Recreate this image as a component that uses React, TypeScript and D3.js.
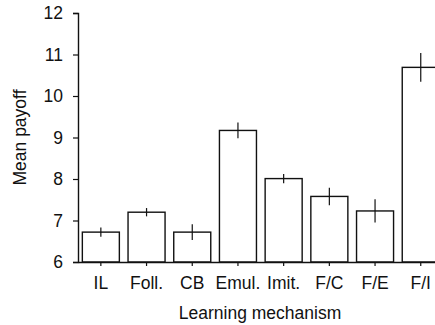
import { useRef, useEffect } from 'react';
import * as d3 from 'd3';

const categories = ['IL', 'Foll.', 'CB', 'Emul.', 'Imit.', 'F/C', 'F/E', 'F/I'];
const means = [6.72, 7.2, 6.72, 9.17, 8.01, 7.58, 7.23, 10.69];
const errors = [0.11, 0.1, 0.19, 0.19, 0.11, 0.21, 0.28, 0.345];
const yTicks = [6, 7, 8, 9, 10, 11, 12];

const W = 435;
const H = 325;
const AXIS_X = 78;
const STEP = 45.7;
const FONT = '"Liberation Sans", Arial, sans-serif';
const FS = 17.5;

export default function App() {
  const svgRef = useRef<SVGSVGElement>(null);

  useEffect(() => {
    const svg = d3.select(svgRef.current);
    svg.selectAll('*').remove();

    const x = d3.scaleBand<string>()
      .domain(categories)
      .range([AXIS_X, AXIS_X + STEP * categories.length])
      .paddingInner(0.19)
      .paddingOuter(0.095);
    const y = d3.scaleLinear().domain([6, 12]).range([262, 13]);

    const g = svg.append('g');

    // bars
    g.selectAll('rect.bar')
      .data(categories)
      .enter().append('rect')
      .attr('class', 'bar')
      .attr('x', d => x(d)!)
      .attr('width', x.bandwidth())
      .attr('y', (d, i) => y(means[i]))
      .attr('height', (d, i) => y(6) - y(means[i]))
      .attr('fill', '#fff')
      .attr('stroke', '#111')
      .attr('stroke-width', 1.4);

    // error bars
    g.selectAll('line.err')
      .data(categories)
      .enter().append('line')
      .attr('class', 'err')
      .attr('x1', d => x(d)! + x.bandwidth() / 2)
      .attr('x2', d => x(d)! + x.bandwidth() / 2)
      .attr('y1', (d, i) => y(means[i] + errors[i]))
      .attr('y2', (d, i) => y(means[i] - errors[i]))
      .attr('stroke', '#111')
      .attr('stroke-width', 1.2);

    // y axis
    const ya = g.append('g')
      .attr('transform', `translate(${AXIS_X},0)`)
      .call(d3.axisLeft(y).tickValues(yTicks).tickFormat(d3.format('d')).tickSize(5).tickPadding(10));
    ya.select('.domain').attr('stroke', '#111').attr('stroke-width', 1.4);
    ya.selectAll('line').attr('stroke', '#111').attr('stroke-width', 1.2);
    ya.selectAll('text').attr('font-family', FONT).attr('font-size', FS).attr('fill', '#111');

    // x axis
    const xa = g.append('g')
      .attr('transform', `translate(0,${y(6)})`)
      .call(d3.axisBottom(x).tickSize(4).tickSizeOuter(0).tickPadding(11));
    xa.select('.domain').attr('stroke', '#111').attr('stroke-width', 1.4);
    xa.selectAll('line').attr('stroke', '#111').attr('stroke-width', 1.2);
    xa.selectAll('text').attr('font-family', FONT).attr('font-size', FS).attr('fill', '#111');

    svg.append('text')
      .attr('x', 260).attr('y', 319)
      .attr('text-anchor', 'middle')
      .attr('font-family', FONT).attr('font-size', FS).attr('fill', '#111')
      .text('Learning mechanism');

    svg.append('text')
      .attr('transform', `translate(26,${(y(6) + y(12)) / 2}) rotate(-90)`)
      .attr('text-anchor', 'middle')
      .attr('font-family', FONT).attr('font-size', FS).attr('fill', '#111')
      .text('Mean payoff');
  }, []);

  return (
    <svg ref={svgRef} width={W} height={H}
      style={{ position: 'absolute', left: 0, top: 0, background: '#fff' }} />
  );
}
